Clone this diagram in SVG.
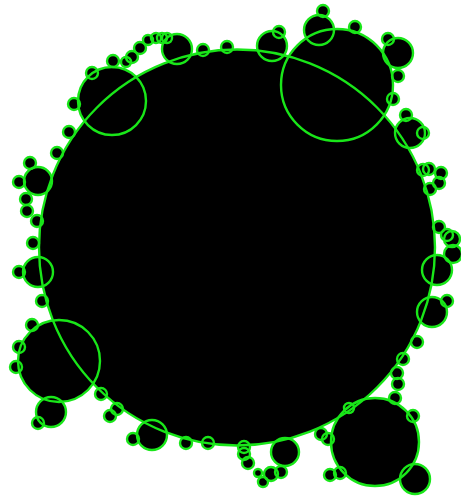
<svg xmlns="http://www.w3.org/2000/svg" width="461" height="498" viewBox="0 0 461 498">
<defs>
<style>
.f{fill:#000;stroke:none}
.s{fill:none;stroke:#19e619;stroke-width:2.4}
</style>
<g id="c">
<circle cx="237" cy="247.5" r="198"/>
<circle cx="112" cy="101" r="34"/>
<circle cx="177" cy="49" r="15"/>
<circle cx="92" cy="73" r="6"/>
<circle cx="113" cy="61" r="6"/>
<circle cx="126" cy="62" r="5"/>
<circle cx="132" cy="57" r="6"/>
<circle cx="140" cy="48" r="6"/>
<circle cx="148" cy="40" r="5"/>
<circle cx="156" cy="38" r="5"/>
<circle cx="162" cy="38" r="5"/>
<circle cx="167" cy="38" r="5"/>
<circle cx="203" cy="50" r="6"/>
<circle cx="227" cy="47" r="6"/>
<circle cx="74" cy="104" r="6"/>
<circle cx="69" cy="132" r="6"/>
<circle cx="57" cy="153" r="6"/>
<circle cx="30" cy="163" r="6"/>
<circle cx="337" cy="85" r="56"/>
<circle cx="319" cy="30" r="15"/>
<circle cx="323" cy="11" r="6"/>
<circle cx="272" cy="46" r="15"/>
<circle cx="279" cy="32" r="6"/>
<circle cx="355" cy="27" r="6"/>
<circle cx="388" cy="39" r="6"/>
<circle cx="398" cy="53" r="15"/>
<circle cx="398" cy="76" r="6"/>
<circle cx="393" cy="99" r="6"/>
<circle cx="406" cy="115" r="6"/>
<circle cx="410" cy="133" r="15"/>
<circle cx="423" cy="133" r="6"/>
<circle cx="423" cy="170" r="6"/>
<circle cx="429" cy="169" r="6"/>
<circle cx="441" cy="173" r="6"/>
<circle cx="439" cy="183" r="6"/>
<circle cx="430" cy="189" r="6"/>
<circle cx="439" cy="227" r="6"/>
<circle cx="447" cy="235" r="6"/>
<circle cx="452" cy="239" r="8"/>
<circle cx="453" cy="254" r="9"/>
<circle cx="437" cy="270" r="15"/>
<circle cx="432" cy="312" r="15"/>
<circle cx="447" cy="301" r="6"/>
<circle cx="38" cy="181" r="14"/>
<circle cx="19" cy="182" r="6"/>
<circle cx="26" cy="199" r="6"/>
<circle cx="27" cy="211" r="6"/>
<circle cx="37" cy="221" r="6"/>
<circle cx="33" cy="243" r="6"/>
<circle cx="38" cy="272" r="15"/>
<circle cx="19" cy="272" r="6"/>
<circle cx="42" cy="301" r="6"/>
<circle cx="59" cy="361" r="41"/>
<circle cx="32" cy="325" r="6"/>
<circle cx="19" cy="347" r="6"/>
<circle cx="16" cy="367" r="6"/>
<circle cx="51" cy="412" r="15"/>
<circle cx="38" cy="423" r="6"/>
<circle cx="101" cy="394" r="6"/>
<circle cx="117" cy="409" r="6"/>
<circle cx="110" cy="416" r="6"/>
<circle cx="152" cy="435" r="15"/>
<circle cx="133" cy="439" r="6"/>
<circle cx="186" cy="443" r="6"/>
<circle cx="208" cy="443" r="6"/>
<circle cx="417" cy="342" r="6"/>
<circle cx="403" cy="359" r="6"/>
<circle cx="397" cy="373" r="6"/>
<circle cx="398" cy="384" r="6"/>
<circle cx="395" cy="398" r="6"/>
<circle cx="413" cy="416" r="6"/>
<circle cx="375" cy="442" r="44"/>
<circle cx="415" cy="479" r="15"/>
<circle cx="349" cy="408" r="5"/>
<circle cx="321" cy="434" r="6"/>
<circle cx="328" cy="439" r="6"/>
<circle cx="285" cy="452" r="14"/>
<circle cx="244" cy="447" r="6"/>
<circle cx="244" cy="454" r="6"/>
<circle cx="248" cy="463" r="6"/>
<circle cx="258" cy="473" r="4"/>
<circle cx="263" cy="482" r="5"/>
<circle cx="271" cy="474" r="7"/>
<circle cx="281" cy="472" r="6"/>
<circle cx="330" cy="475" r="6"/>
<circle cx="340" cy="473" r="6"/>
</g>
</defs>
<rect width="461" height="498" fill="#fff"/>
<g id="fills" class="f"><use href="#c"/></g>
<g id="outlines" class="s"><use href="#c"/></g>
</svg>
